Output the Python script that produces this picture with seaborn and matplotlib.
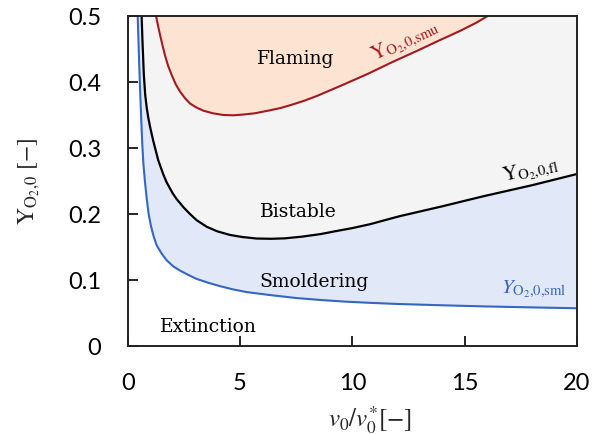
import numpy as np
import pandas as pd
import matplotlib
matplotlib.use("Agg")
import matplotlib.pyplot as plt
import seaborn as sns

# ---- data ----
sml_x = [0.445, 0.5, 0.55, 0.6, 0.65, 0.7, 0.77, 0.85, 0.93, 1.03, 1.15, 1.29, 1.5, 1.74,
         2.03, 2.33, 2.7, 3.07, 3.6, 4.11, 4.7, 5.3, 6.34, 7.5, 8.6, 9.7, 10.8, 12.0,
         14.0, 16.0, 18.0, 20.0]
sml_y = [0.5, 0.44, 0.39, 0.345, 0.305, 0.275, 0.248, 0.222, 0.2, 0.182, 0.166, 0.152, 0.14, 0.129,
         0.12, 0.1136, 0.107, 0.101, 0.095, 0.09, 0.085, 0.081, 0.0765, 0.072, 0.069, 0.0665, 0.0647, 0.063,
         0.061, 0.0592, 0.0578, 0.0565]

fl_x = [0.62, 0.66, 0.72, 0.78, 0.85, 0.92, 1.0, 1.14, 1.36, 1.59, 1.74, 2.0, 2.18, 2.5, 2.77,
        3.07, 3.52, 4.0, 4.55, 5.1, 5.74, 6.4, 7.0, 7.75, 8.6, 9.2, 10.0, 10.8, 11.5, 12.1,
        14.0, 15.8, 18.0, 20.0]
fl_y = [0.5, 0.46, 0.41, 0.38, 0.36, 0.345, 0.331, 0.31, 0.281, 0.259, 0.247, 0.231, 0.222, 0.209, 0.1995,
        0.19, 0.18, 0.173, 0.1677, 0.1645, 0.1622, 0.1618, 0.1625, 0.165, 0.169, 0.173, 0.178, 0.184, 0.1905, 0.196,
        0.211, 0.226, 0.243, 0.26]

smu_x = [1.26, 1.35, 1.44, 1.55, 1.66, 1.8, 1.96, 2.14, 2.33, 2.55, 2.77, 3.05, 3.37, 3.8, 4.26,
         4.7, 5.15, 5.65, 6.19, 6.8, 7.3, 7.85, 8.4, 9.5, 10.7, 11.8, 12.9, 13.9, 14.8, 15.5, 16.05]
smu_y = [0.5, 0.485, 0.471, 0.455, 0.44, 0.424, 0.41, 0.396, 0.385, 0.375, 0.367, 0.361, 0.356, 0.352, 0.3495,
         0.349, 0.3502, 0.352, 0.3556, 0.36, 0.365, 0.371, 0.378, 0.394, 0.412, 0.43, 0.447, 0.463, 0.477, 0.489, 0.5]

x_ticks = [0, 5, 10, 15, 20]
x_ticklabels = ["0", "5", "10", "15", "20"]
y_ticks = [0, 0.1, 0.2, 0.3, 0.4, 0.5]
y_ticklabels = ["0", "0.1", "0.2", "0.3", "0.4", "0.5"]

regions = ["Flaming", "Bistable", "Smoldering", "Extinction"]
region_pos = [(7.5, 0.436), (7.6, 0.204), (8.3, 0.098), (3.6, 0.03)]

# ---- style ----
sns.set_theme(style="ticks")
plt.rcParams["font.family"] = ["Lato", "DejaVu Sans"]
plt.rcParams["mathtext.fontset"] = "stix"

C_RED = "#A3191F"
C_BLUE = "#3466C4"
C_PEACH = "#FDE4D2"
C_GRAY = "#F4F4F4"
C_LBLUE = "#E1E8F8"

fig = plt.figure(figsize=(6.06, 4.35), dpi=100)
ax = fig.add_axes([0.2107, 0.2034, 0.7413, 0.7582])

TOP = 0.5
ax.fill_between(sml_x, sml_y, TOP, color=C_LBLUE, lw=0, zorder=1)
ax.fill_between(fl_x, fl_y, TOP, color=C_GRAY, lw=0, zorder=2)
ax.fill_between(smu_x, smu_y, TOP, color=C_PEACH, lw=0, zorder=3)

df_sml = pd.DataFrame({"x": sml_x, "y": sml_y})
df_fl = pd.DataFrame({"x": fl_x, "y": fl_y})
df_smu = pd.DataFrame({"x": smu_x, "y": smu_y})
line_kw = dict(sort=False, ax=ax, zorder=4, solid_joinstyle="round", solid_capstyle="round")
sns.lineplot(data=df_sml, x="x", y="y", color=C_BLUE, lw=1.5, **line_kw)
sns.lineplot(data=df_fl, x="x", y="y", color="black", lw=1.6, **line_kw)
sns.lineplot(data=df_smu, x="x", y="y", color=C_RED, lw=1.5, **line_kw)

ax.set_xlim(0, 20)
ax.set_ylim(0, 0.5)
ax.set_xticks(x_ticks)
ax.set_xticklabels(x_ticklabels)
ax.set_yticks(y_ticks)
ax.set_yticklabels(y_ticklabels)
ax.tick_params(axis="both", direction="in", length=7, width=1.2, pad=19,
               labelsize=17, colors="black", top=False, right=False)
for s in ax.spines.values():
    s.set_visible(True)
    s.set_color("#222222")
    s.set_linewidth(1.4)
    s.set_zorder(6)

ax.set_xlabel(r"$v_0/v_0^{*}[-]$", fontsize=18)
ax.set_ylabel(r"$\mathrm{Y}_{\mathrm{O_2}{,}0}\ [-]$", fontsize=17)
ax.xaxis.set_label_coords(0.539, -0.177)
ax.yaxis.set_label_coords(-0.191, 0.5)

for name, (px, py) in zip(regions, region_pos):
    ax.text(px, py, name, ha="center", va="center", fontsize=13.5,
            family="DejaVu Serif", color="black", zorder=7)

ax.text(12.35, 0.462, r"$\mathrm{Y}_{\mathrm{O_2{,}0{,}smu}}$", color=C_RED,
        fontsize=15, rotation=25, ha="center", va="center", zorder=7)
ax.text(17.96, 0.266, r"$\mathrm{Y}_{\mathrm{O_2{,}0{,}fl}}$", color="black",
        fontsize=15, rotation=12, ha="center", va="center", zorder=7)
ax.text(18.09, 0.0859, r"$Y_{\mathrm{O_2{,}0{,}sml}}$", color=C_BLUE,
        fontsize=15, rotation=0, ha="center", va="center", zorder=7)

fig.savefig("out.png", dpi=100)
